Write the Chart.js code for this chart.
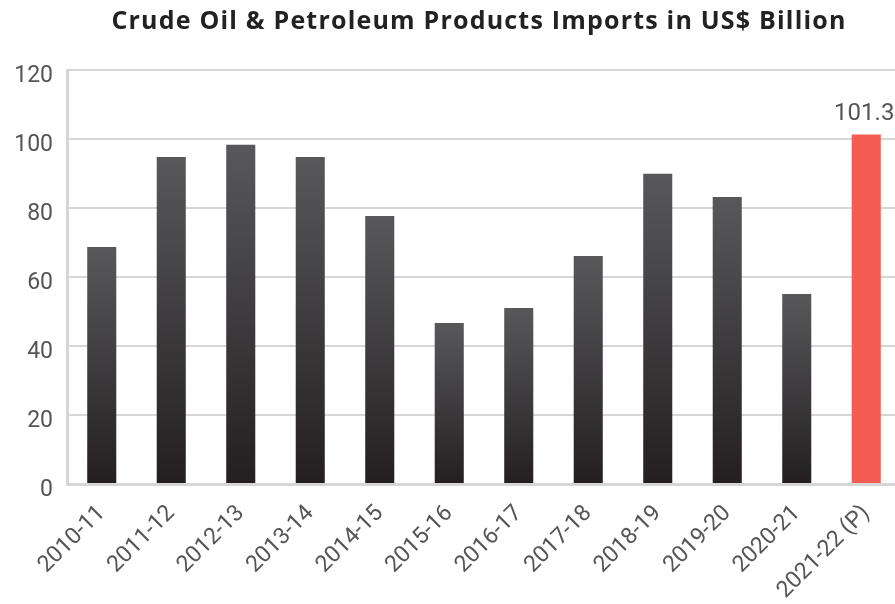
<!DOCTYPE html>
<html>
<head>
<meta charset="utf-8">
<script src="https://cdn.jsdelivr.net/npm/chart.js@4.4.0/dist/chart.umd.min.js"></script>
<style>
  html, body { margin: 0; padding: 0; background: #fff; overflow: hidden; }
  #wrap { width: 901px; height: 604px; position: relative; }
</style>
</head>
<body>
<div id="wrap"><canvas id="c"></canvas></div>
<script>
const categories = ['2010-11', '2011-12', '2012-13', '2013-14', '2014-15', '2015-16',
                    '2016-17', '2017-18', '2018-19', '2019-20', '2020-21', '2021-22 (P)'];
const imports = [68.7, 94.8, 98.3, 94.8, 77.7, 46.7, 51.0, 66.1, 89.9, 83.2, 55.1, 101.3];
const yTicks = [0, 20, 40, 60, 80, 100, 120];
const titleText = 'Crude Oil & Petroleum Products Imports in US$ Billion';
const labelledIndex = 11;   // latest (provisional) year carries its value label

const TXT = '#555555';
const GRID = '#d6d6d6';

// each dark bar shades from grey at its top to near-black at the baseline
function barFill(ctx) {
  const chart = ctx.chart;
  const i = ctx.dataIndex;
  if (i === labelledIndex) return '#f25c53';
  const y = chart.scales.y;
  if (!y || !chart.chartArea) return '#3a3a3a';
  const top = y.getPixelForValue(imports[i]);
  const base = y.getPixelForValue(0);
  const g = chart.ctx.createLinearGradient(0, top, 0, base);
  g.addColorStop(0, '#58585b');
  g.addColorStop(1, '#231f20');
  return g;
}

// value above the provisional bar
const valueLabel = {
  id: 'valueLabel',
  afterDatasetsDraw(chart) {
    const bar = chart.getDatasetMeta(0).data[labelledIndex];
    const c = chart.ctx;
    c.save();
    c.font = '24px Roboto';
    c.fillStyle = TXT;
    c.textAlign = 'center';
    c.textBaseline = 'alphabetic';
    c.fillText(imports[labelledIndex].toFixed(1), bar.x - 2, bar.y - 15);
    c.restore();
  }
};

// heading with a little tracking, centred a touch left of the plot centre
const heading = {
  id: 'heading',
  afterDraw(chart) {
    const c = chart.ctx;
    const area = chart.chartArea;
    c.save();
    c.font = '700 25px "Open Sans"';
    c.letterSpacing = '1.2px';
    c.fillStyle = '#222222';
    c.textAlign = 'center';
    c.textBaseline = 'middle';
    c.fillText(titleText, (area.left + area.right) / 2 - 5, 22);
    c.restore();
  }
};

new Chart(document.getElementById('c'), {
  type: 'bar',
  data: {
    labels: categories,
    datasets: [{
      data: imports,
      backgroundColor: barFill,
      borderWidth: 0,
      barPercentage: 0.418,
      categoryPercentage: 1
    }]
  },
  options: {
    responsive: true,
    maintainAspectRatio: false,
    animation: false,
    layout: { padding: { top: 70, left: 0, right: 0, bottom: 0 } },
    plugins: {
      legend: { display: false },
      tooltip: { enabled: false },
      title: { display: false }
    },
    scales: {
      x: {
        grid: { display: false },
        border: { color: GRID, width: 3 },
        ticks: {
          color: TXT,
          font: { family: 'Roboto', size: 23 },
          minRotation: 45,
          maxRotation: 45,
          padding: 8
        },
        afterFit(s) { s.height = 120; }
      },
      y: {
        min: 0,
        max: 120,
        afterBuildTicks(s) { s.ticks = yTicks.map(v => ({ value: v })); },
        grid: { color: GRID, lineWidth: 2, drawTicks: false },
        border: { color: GRID, width: 3 },
        ticks: {
          color: TXT,
          font: { family: 'Roboto', size: 23 },
          padding: 14,
          labelOffset: 6
        },
        afterFit(s) { s.width = 67; }
      }
    }
  },
  plugins: [valueLabel, heading]
});
</script>
</body>
</html>
